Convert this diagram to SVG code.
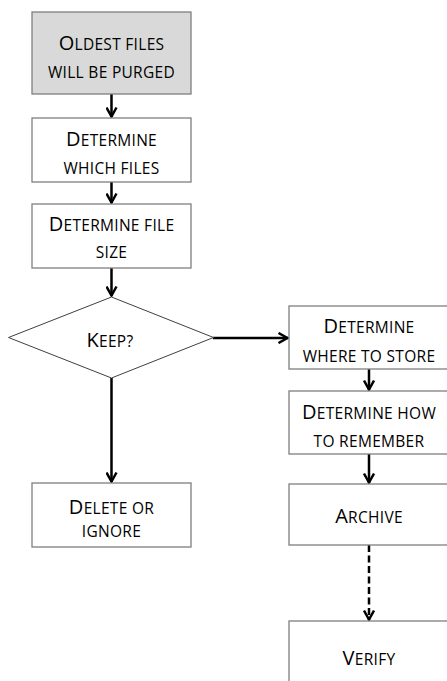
<svg xmlns="http://www.w3.org/2000/svg" width="447" height="681" viewBox="0 0 447 681">
<style>
.box{fill:#fff;stroke:#7f7f7f;stroke-width:1.3}
.dia{fill:#fff;stroke:#404040;stroke-width:1}
.start{fill:#d9d9d9}
.t{font-family:"Open Sans",Lato,sans-serif;font-size:15.5px;letter-spacing:0.3px;text-anchor:middle;fill:#000}
.u{font-size:20px}
.c{stroke:#000;stroke-width:2.5;fill:none}
.d{stroke-dasharray:7,3.5}
</style>
<defs>
<marker id="ah" markerUnits="userSpaceOnUse" viewBox="0 0 12 12" refX="11" refY="6" markerWidth="12" markerHeight="12" orient="auto">
<path d="M1.5,1 L10.5,6 L1.5,11" stroke="#000" stroke-width="2.5" fill="none" stroke-linejoin="miter"/>
</marker>
</defs>
<rect width="447" height="681" fill="#fff"/>
<g id="connectors">
<line class="c" x1="111.5" y1="94" x2="111.5" y2="117" marker-end="url(#ah)"/>
<line class="c" x1="111.5" y1="182" x2="111.5" y2="203" marker-end="url(#ah)"/>
<line class="c" x1="111.5" y1="268" x2="111.5" y2="296" marker-end="url(#ah)"/>
<line class="c" x1="213" y1="338" x2="288" y2="338" marker-end="url(#ah)"/>
<line class="c" x1="111.5" y1="378" x2="111.5" y2="482" marker-end="url(#ah)"/>
<line class="c" x1="369" y1="369" x2="369" y2="390" marker-end="url(#ah)"/>
<line class="c" x1="369" y1="454" x2="369" y2="483" marker-end="url(#ah)"/>
<line class="c d" x1="369" y1="545" x2="369" y2="620" marker-end="url(#ah)"/>
</g>
<g id="n-oldest">
<rect class="box start" x="32" y="12" width="159" height="82"/>
<text class="t" x="111.5" y="50"><tspan class="u">O</tspan>LDEST FILES</text>
<text class="t" x="111.5" y="78">WILL BE PURGED</text>
</g>
<g id="n-which">
<rect class="box" x="32" y="118" width="159" height="64"/>
<text class="t" x="111.5" y="146"><tspan class="u">D</tspan>ETERMINE</text>
<text class="t" x="111.5" y="174">WHICH FILES</text>
</g>
<g id="n-size">
<rect class="box" x="32" y="204" width="159" height="64"/>
<text class="t" x="111.5" y="231"><tspan class="u">D</tspan>ETERMINE FILE</text>
<text class="t" x="111.5" y="258">SIZE</text>
</g>
<g id="n-keep">
<polygon class="dia" points="111.5,297 213.5,337.5 111.5,378 8.5,337.5"/>
<text class="t" x="110" y="347"><tspan class="u">K</tspan>EEP?</text>
</g>
<g id="n-delete">
<rect class="box" x="32" y="483" width="159" height="64"/>
<text class="t" x="111.5" y="514"><tspan class="u">D</tspan>ELETE OR</text>
<text class="t" x="111.5" y="537">IGNORE</text>
</g>
<g id="n-where">
<rect class="box" x="289" y="306" width="159" height="63"/>
<text class="t" x="369" y="333"><tspan class="u">D</tspan>ETERMINE</text>
<text class="t" x="369" y="362">WHERE TO STORE</text>
</g>
<g id="n-how">
<rect class="box" x="289" y="391" width="159" height="63"/>
<text class="t" x="369" y="419"><tspan class="u">D</tspan>ETERMINE HOW</text>
<text class="t" x="369" y="447">TO REMEMBER</text>
</g>
<g id="n-archive">
<rect class="box" x="289" y="484" width="159" height="61"/>
<text class="t" x="369" y="523"><tspan class="u">A</tspan>RCHIVE</text>
</g>
<g id="n-verify">
<rect class="box" x="289" y="621" width="159" height="70"/>
<text class="t" x="369" y="665"><tspan class="u">V</tspan>ERIFY</text>
</g>
</svg>
